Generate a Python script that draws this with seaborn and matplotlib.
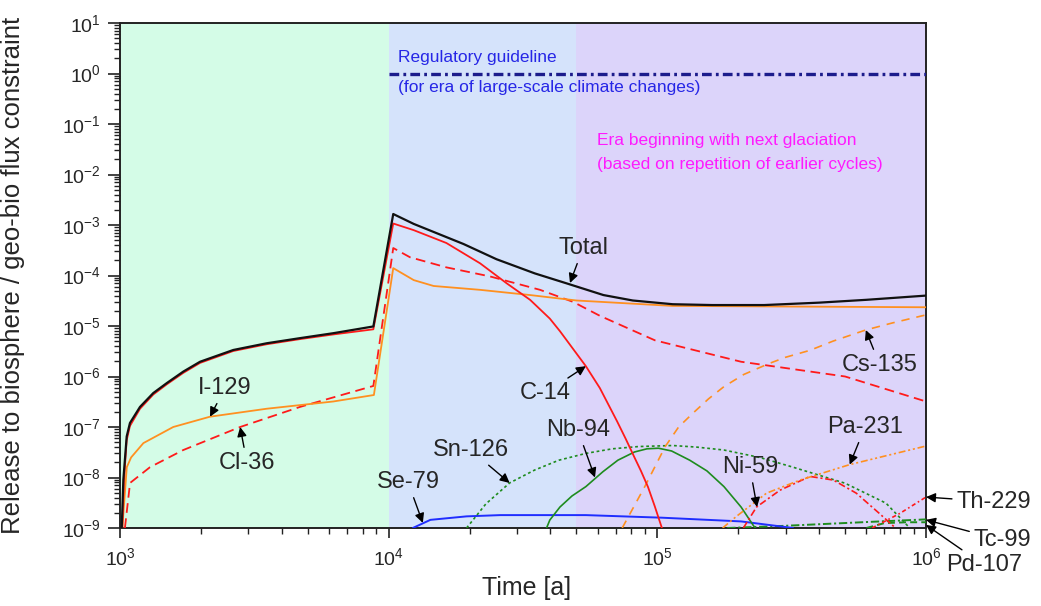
import numpy as np
import pandas as pd
import matplotlib
matplotlib.use('Agg')
import matplotlib.pyplot as plt
import matplotlib.ticker as mticker
import seaborn as sns

# Values (time in years, release / flux constraint)
total_t = [1015, 1029, 1059, 1089, 1187, 1330, 1493, 1720, 1986, 2640, 3515, 4677, 6220, 8770,
           10400, 12400, 19000, 25200, 35000, 45900, 63000, 81000, 114000, 160000, 250000, 400000, 600000, 1000000]
total_v = [1e-9, 9e-9, 6.5e-8, 1.2e-7, 2.5e-7, 4.7e-7, 7.4e-7, 1.25e-6, 1.96e-6, 3.35e-6, 4.55e-6, 5.75e-6, 7.2e-6, 9.8e-6,
           1.65e-3, 1.05e-3, 4.2e-4, 2.1e-4, 1.1e-4, 7.0e-5, 4.1e-5, 3.2e-5, 2.7e-5, 2.6e-5, 2.6e-5, 2.9e-5, 3.3e-5, 4.0e-5]

c14_t = [1020, 1035, 1059, 1089, 1187, 1330, 1493, 1720, 1986, 2640, 3515, 4677, 6220, 8770,
         10400, 12400, 16400, 21900, 27500, 33600, 39800, 43400, 54200, 61100, 70800, 76300, 82200,
         86900, 92300, 97800, 104000]
c14_v = [1e-9, 9e-9, 5.5e-8, 1.05e-7, 2.3e-7, 4.4e-7, 7e-7, 1.18e-6, 1.86e-6, 3.2e-6, 4.35e-6, 5.5e-6, 6.8e-6, 8.6e-6,
         1.07e-3, 7.9e-4, 4.4e-4, 1.74e-4, 7e-5, 3.3e-5, 1.4e-5, 7.9e-6, 1.6e-6, 5.9e-7, 1.3e-7, 5.8e-8, 2.5e-8,
         1.35e-8, 6.5e-9, 2.7e-9, 1e-9]

cl36_t = [1043, 1090, 1293, 1720, 2800, 4680, 8770, 10400, 12000, 16400, 23800, 36600, 48600, 61000,
          98000, 205000, 500000, 1000000]
cl36_v = [1e-9, 7.8e-9, 1.6e-8, 3.5e-8, 1e-7, 2.5e-7, 6.5e-7, 3.5e-4, 2.3e-4, 1.45e-4, 9.6e-5, 5.2e-5, 3.0e-5, 1.6e-5,
          5.2e-6, 1.96e-6, 1.0e-6, 3.2e-7]

i129_t = [1020, 1060, 1100, 1222, 1578, 2163, 3515, 6220, 8810, 10400, 12400, 14700, 21900, 33600, 50000, 114000, 1000000]
i129_v = [1e-9, 1.6e-8, 2.5e-8, 4.8e-8, 1e-7, 1.6e-7, 2.3e-7, 3.2e-7, 4.3e-7, 1.4e-4, 8.1e-5, 6.2e-5, 5.2e-5, 4.1e-5,
          3.2e-5, 2.5e-5, 2.35e-5]

cs135_t = [74000, 89800, 107000, 120000, 136000, 155000, 177000, 210000, 260000, 300000, 370000, 450000,
           595000, 750000, 1000000]
cs135_v = [1e-9, 6.6e-9, 4.1e-8, 1e-7, 1.9e-7, 3.6e-7, 6.3e-7, 1.1e-6, 1.8e-6, 2.4e-6, 3.3e-6, 5e-6,
           8.3e-6, 1.15e-5, 1.66e-5]

sn126_t = [19500, 23000, 28200, 34900, 43000, 54200, 68000, 85000, 114000, 140000, 177000, 240000, 320000,
           500000, 710000, 870000]
sn126_v = [1e-9, 3e-9, 7.8e-9, 1.4e-8, 2.2e-8, 3.0e-8, 3.7e-8, 4.1e-8, 4.3e-8, 4.0e-8, 3.5e-8, 2.5e-8, 1.6e-8,
           7.7e-9, 3.1e-9, 1e-9]

nb94_t = [38700, 39800, 43400, 48100, 54200, 62700, 71300, 82200, 91500, 101000, 113000, 132000, 153000,
          177000, 205000, 231000]
nb94_v = [1e-9, 1.44e-9, 2.6e-9, 4.3e-9, 6.6e-9, 1.3e-8, 2.2e-8, 3.2e-8, 3.7e-8, 3.8e-8, 3.35e-8, 2.2e-8, 1.35e-8,
          6.6e-9, 2.6e-9, 1e-9]

se79_t = [12300, 14300, 19500, 26000, 54200, 104000, 205000, 320000]
se79_v = [1e-9, 1.45e-9, 1.7e-9, 1.8e-9, 1.8e-9, 1.6e-9, 1.35e-9, 1e-9]

ni59_t = [209000, 234000, 286000, 370000, 452000, 550000, 670000, 770000]
ni59_v = [1e-9, 2.6e-9, 5.6e-9, 1.05e-8, 8.9e-9, 4.9e-9, 1.95e-9, 1e-9]

pa231_t = [175000, 197000, 255000, 340000, 520000, 1000000]
pa231_v = [1e-9, 1.7e-9, 4.9e-9, 8.9e-9, 1.8e-8, 4.2e-8]

th229_t = [630000, 800000, 1000000]
th229_v = [1e-9, 1.95e-9, 4.1e-9]

tc99_t = [182000, 293000, 634000, 1000000]
tc99_v = [1e-9, 1.1e-9, 1.33e-9, 1.48e-9]

pd107_t = [600000, 700000, 850000, 1000000]
pd107_v = [1e-9, 1.25e-9, 1.3e-9, 1.3e-9]

guide_t = [1e4, 1e6]
guide_v = [1.0, 1.0]

era_edges = [1e3, 1e4, 5e4, 1e6]
era_colors = ['#d4fce7', '#d5e3fb', '#dcd4fa']

# name, times, values, colour, linewidth, dash pattern (points)
series = [
    ('Tc-99', tc99_t, tc99_v, '#1e8c1e', 1.4, (0, (6, 2, 1.5, 2))),
    ('Pd-107', pd107_t, pd107_v, '#1e8c1e', 1.4, (0, (5, 3))),
    ('Se-79', se79_t, se79_v, '#1f2dff', 1.4, '-'),
    ('Sn-126', sn126_t, sn126_v, '#1e8c1e', 1.2, (0, (2, 2))),
    ('Nb-94', nb94_t, nb94_v, '#1e8c1e', 1.2, '-'),
    ('Ni-59', ni59_t, ni59_v, '#ff1a1a', 1.2, (0, (5, 2, 1.5, 2))),
    ('Pa-231', pa231_t, pa231_v, '#ff9020', 1.2, (0, (5, 2, 1.5, 2, 1.5, 2))),
    ('Th-229', th229_t, th229_v, '#ff1a1a', 1.2, (0, (3, 2, 1.2, 2))),
    ('Cs-135', cs135_t, cs135_v, '#ff9020', 1.2, (0, (6, 5))),
    ('Cl-36', cl36_t, cl36_v, '#ff1a1a', 1.3, (0, (7, 4))),
    ('I-129', i129_t, i129_v, '#ff9020', 1.3, '-'),
    ('C-14', c14_t, c14_v, '#ff1a1a', 1.3, '-'),
    ('Total', total_t, total_v, '#111111', 1.6, '-'),
]

# label, text position (x, y), arrow tip (x, y)
labels = [
    ('Total', (52900, 3.5e-4), (47300, 7.1e-5)),
    ('I-129', (2460, 5.9e-7), (2163, 1.6e-7)),
    ('Cl-36', (2970, 1.94e-8), (2800, 1e-7)),
    ('Se-79', (11800, 8.1e-9), (13400, 1.26e-9)),
    ('Sn-126', (20200, 3.5e-8), (28200, 7.8e-9)),
    ('C-14', (38200, 4.7e-7), (54200, 1.6e-6)),
    ('Nb-94', (50600, 8.7e-8), (58600, 1.0e-8)),
    ('Ni-59', (221000, 1.6e-8), (235000, 2.6e-9)),
    ('Pa-231', (593000, 1e-7), (520000, 1.8e-8)),
    ('Cs-135', (673000, 1.7e-6), (597000, 8.3e-6)),
    ('Th-229', (1790000, 3.3e-9), (1e6, 4.1e-9)),
    ('Tc-99', (1930000, 5.7e-10), (1e6, 1.45e-9)),
    ('Pd-107', (1640000, 1.86e-10), (1e6, 1.15e-9)),
]

sns.set_style('ticks')
plt.rcParams['font.family'] = ['Liberation Sans', 'DejaVu Sans']
plt.rcParams['mathtext.default'] = 'regular'
plt.rcParams['lines.scale_dashes'] = False

fig = plt.figure(figsize=(10.41, 6.06), dpi=100)
ax = fig.add_axes([120 / 1041, 1 - 528 / 606, 806 / 1041, 505 / 606])
ax.set_xscale('log')
ax.set_yscale('log')

for i in range(len(era_colors)):
    ax.axvspan(era_edges[i], era_edges[i + 1], color=era_colors[i], lw=0, zorder=0)

for name, t, v, col, lw, ls in series:
    df = pd.DataFrame({'time': t, 'value': v})
    sns.lineplot(data=df, x='time', y='value', color=col, linewidth=lw, linestyle=ls,
                 estimator=None, sort=False, ax=ax, zorder=3)

sns.lineplot(x=guide_t, y=guide_v, color='#1c1c8c', linewidth=2.4,
             linestyle=(0, (7, 3, 2, 3)), estimator=None, ax=ax, zorder=3)

ax.text(10800, 2.1, 'Regulatory guideline', color='#2626e6', fontsize=12.5, va='center', ha='left')
ax.text(10800, 0.52, '(for era of large-scale climate changes)', color='#2626e6', fontsize=12.5,
        va='center', ha='left')
ax.text(59600, 0.048, 'Era beginning with next glaciation', color='#ff1aff', fontsize=12.5,
        va='center', ha='left')
ax.text(59600, 0.0155, '(based on repetition of earlier cycles)', color='#ff1aff', fontsize=12.5,
        va='center', ha='left')

for text, pos, tip in labels:
    ax.annotate(text, xy=tip, xytext=pos, fontsize=17, ha='center', va='center',
                annotation_clip=False, zorder=5,
                arrowprops=dict(arrowstyle='-|>', color='black', lw=1.0,
                                mutation_scale=14, shrinkA=1, shrinkB=0))

ax.set_xlim(1e3, 1e6)
ax.set_ylim(1e-9, 1e1)
ax.xaxis.set_major_locator(mticker.LogLocator(base=10, numticks=20))
ax.xaxis.set_minor_locator(mticker.LogLocator(base=10, subs=np.arange(2, 10), numticks=20))
ax.yaxis.set_major_locator(mticker.LogLocator(base=10, numticks=20))
ax.yaxis.set_minor_locator(mticker.LogLocator(base=10, subs=np.arange(2, 10), numticks=20))
ax.xaxis.set_minor_formatter(mticker.NullFormatter())
ax.yaxis.set_minor_formatter(mticker.NullFormatter())

ax.tick_params(which='major', direction='out', length=7, width=1.2, labelsize=14, color='#222222')
ax.tick_params(axis='y', which='major', length=9, pad=5)
ax.tick_params(axis='x', which='major', pad=7)
ax.tick_params(which='minor', direction='out', length=4, width=1.0, color='#222222')
for s in ax.spines.values():
    s.set_linewidth(1.4)
    s.set_color('#222222')

ax.set_xlabel('Time [a]', fontsize=18)
ax.set_ylabel('Release to biosphere / geo-bio flux constraint', fontsize=18.5)
ax.xaxis.set_label_coords(0.505, -0.095)
ax.yaxis.set_label_coords(-0.118, 0.5)

fig.savefig('out.png', dpi=100)
